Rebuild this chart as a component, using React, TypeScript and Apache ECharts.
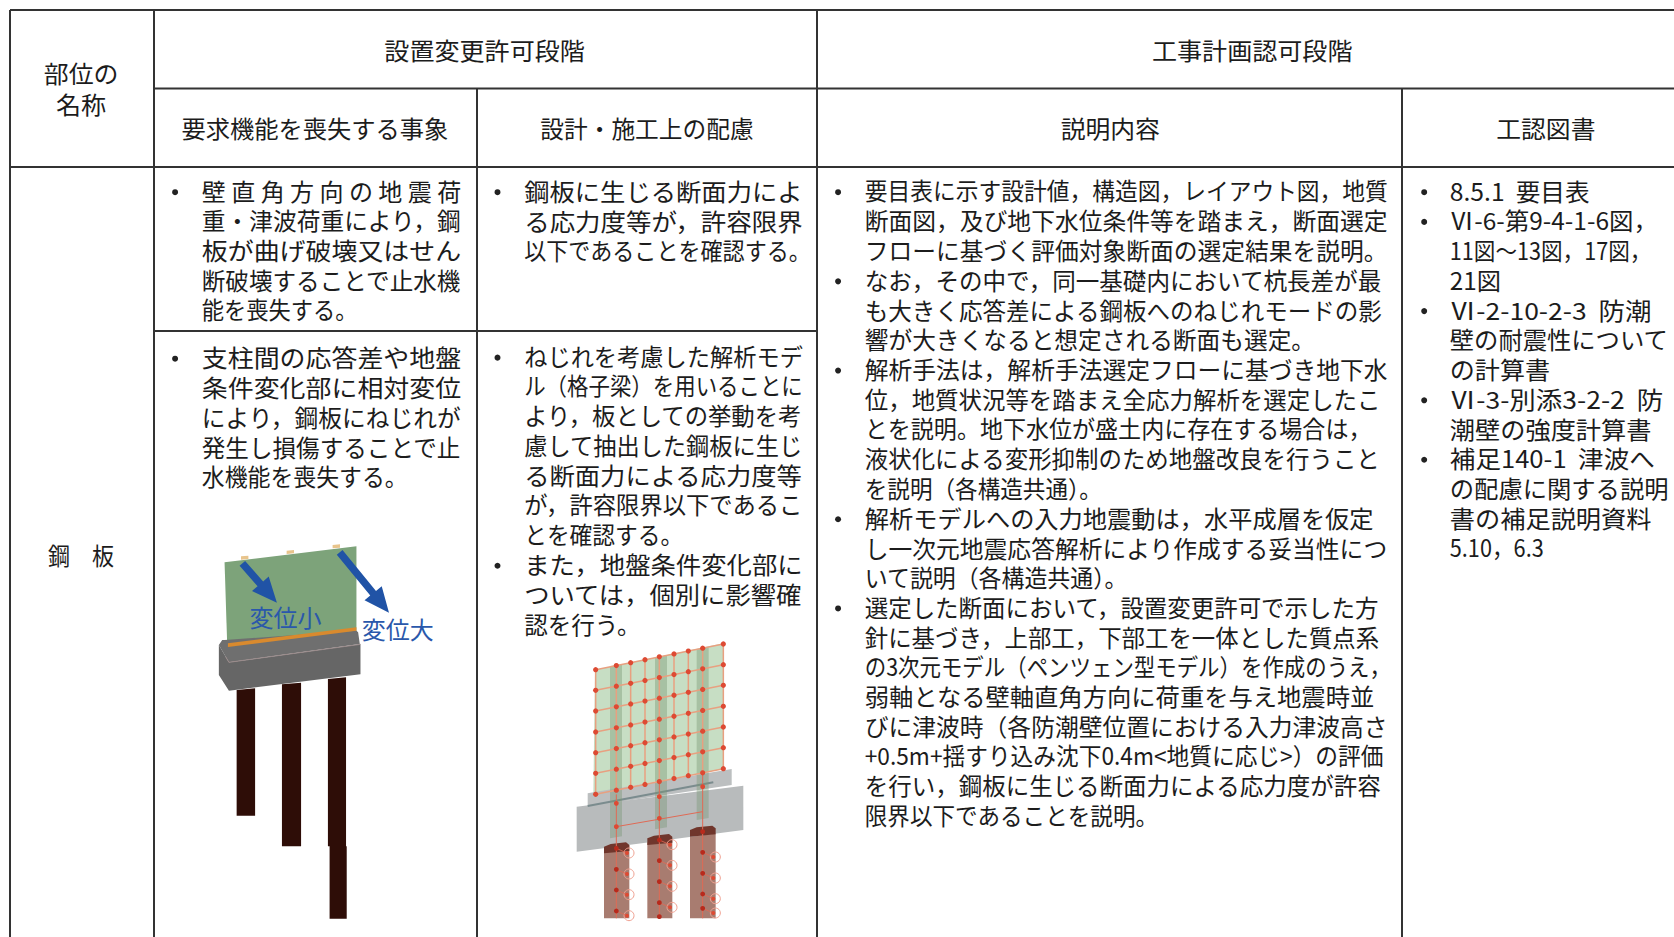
import React, { useEffect, useRef } from "react";
import * as echarts from "echarts";

const headerTop = ["設置変更許可段階", "工事計画認可段階"];
const headerSub = ["要求機能を喪失する事象", "設計・施工上の配慮", "説明内容", "工認図書"];
const rowLabel = ["部位の", "名称", "鋼　板"];

const col1a = ["壁 直 角 方 向 の 地 震 荷", "重・津波荷重により，鋼", "板が曲げ破壊又はせん", "断破壊することで止水機", "能を喪失する。"];
const col1aEnd = [432, 432, 432, 432, 335];
const col1b = ["支柱間の応答差や地盤", "条件変化部に相対変位", "により，鋼板にねじれが", "発生し損傷することで止", "水機能を喪失する。"];
const col1bEnd = [432, 432, 432, 432, 382];
const col2a = ["鋼板に生じる断面力によ", "る応力度等が，許容限界", "以下であることを確認する。"];
const col2aEnd = [752, 752, 760];
const col2b = ["ねじれを考慮した解析モデ", "ル（格子梁）を用いることに", "より，板としての挙動を考", "慮して抽出した鋼板に生じ", "る断面力による応力度等", "が，許容限界以下であるこ", "とを確認する。", "また，地盤条件変化部に", "ついては，個別に影響確", "認を行う。"];
const col2bEnd = [752, 752, 752, 752, 752, 752, 640, 752, 752, 600];
const col3 = [
  "要目表に示す設計値，構造図，レイアウト図，地質",
  "断面図，及び地下水位条件等を踏まえ，断面選定",
  "フローに基づく評価対象断面の選定結果を説明。",
  "なお，その中で，同一基礎内において杭長差が最",
  "も大きく応答差による鋼板へのねじれモードの影",
  "響が大きくなると想定される断面も選定。",
  "解析手法は，解析手法選定フローに基づき地下水",
  "位，地質状況等を踏まえ全応力解析を選定したこ",
  "とを説明。地下水位が盛土内に存在する場合は，",
  "液状化による変形抑制のため地盤改良を行うこと",
  "を説明（各構造共通）。",
  "解析モデルへの入力地震動は，水平成層を仮定",
  "し一次元地震応答解析により作成する妥当性につ",
  "いて説明（各構造共通）。",
  "選定した断面において，設置変更許可で示した方",
  "針に基づき，上部工，下部工を一体とした質点系",
  "の3次元モデル（ペンツェン型モデル）を作成のうえ，",
  "弱軸となる壁軸直角方向に荷重を与え地震時並",
  "びに津波時（各防潮壁位置における入力津波高さ",
  "+0.5m+揺すり込み沈下0.4m<地質に応じ>）の評価",
  "を行い，鋼板に生じる断面力による応力度が許容",
  "限界以下であることを説明。",
];
const col3End = [1300, 1300, 1300, 1295, 1295, 1232, 1300, 1293, 1285, 1293, 1032, 1287, 1300, 1057, 1292, 1292, 1303, 1288, 1300, 1296, 1294, 1085];
const col4 = [
  "8.5.1  要目表",
  "Ⅵ-6-第9-4-1-6図，",
  "11図～13図，17図，",
  "21図",
  "Ⅵ-2-10-2-3  防潮",
  "壁の耐震性について",
  "の計算書",
  "Ⅵ-3-別添3-2-2  防",
  "潮壁の強度計算書",
  "補足140-1  津波へ",
  "の配慮に関する説明",
  "書の補足説明資料",
  "5.10，6.3",
];
const col4End = [1489, 1553, 1547, 1406, 1547, 1563, 1452, 1558, 1547, 1550, 1563, 1547, 1446];
const bullets3 = [0, 3, 6, 11, 14];
const bullets4 = [0, 1, 4, 7, 9];
const bullets2b = [0, 7];
const diagramLabels = ["変位小", "変位大"];

const S = 1674 / 1568;
const FONT = '"Noto Sans CJK JP", "Noto Sans", sans-serif';
const INK = "#1c1c1c";
const TEXT_DY = -2;

const ctx = document.createElement("canvas").getContext("2d")!;

function fitText(text: string, x0: number, x1: number, y: number, size = 24, fill = INK): any {
  const font = `${size}px ${FONT}`;
  ctx.font = font;
  const w = ctx.measureText(text).width || 1;
  return {
    type: "text",
    x: x0 * S,
    y: y * S + TEXT_DY,
    scaleX: ((x1 - x0) * S) / w,
    z: 20,
    style: { text, font, fill, textAlign: "left", textVerticalAlign: "middle" },
  };
}

function centerText(text: string, cx: number, cy: number, width: number, size = 24): any {
  return fitText(text, cx - width / 2, cx + width / 2, cy, size);
}

function bullet(x: number, y: number): any {
  return { type: "circle", shape: { cx: x * S, cy: y * S, r: 3 }, z: 20, style: { fill: "#222" } };
}

function block(lines: string[], ends: number[], x0: number, y0: number, step: number): any[] {
  return lines.map((t, i) => fitText(t, x0, ends[i], y0 + i * step));
}

function rule(x1: number, y1: number, x2: number, y2: number): any {
  return { type: "line", z: 10, shape: { x1, y1, x2, y2 }, style: { stroke: "#333", lineWidth: 2 } };
}

function poly(ox: number, oy: number, kx: number, pts: number[][], fill: string, z = 5, extra: any = {}): any {
  return {
    type: "polygon",
    z,
    shape: { points: pts.map(([a, b]) => [ox + a / kx, oy + b / 3]) },
    style: { fill, ...extra },
  };
}

function diagramOne(): any[] {
  const ox = 140, oy = 500, k = 2.98;
  const out: any[] = [];
  const pile = "#2e0d07";
  out.push(poly(ox, oy, k, [[288, 570], [343, 565], [343, 947], [288, 947]], pile));
  out.push(poly(ox, oy, k, [[423, 553], [480, 548], [480, 1039], [423, 1039]], pile));
  out.push(poly(ox, oy, k, [[560, 537], [614, 532], [614, 1039], [616, 1039], [616, 1256], [565, 1256], [565, 1039], [560, 1039]], pile));
  out.push(poly(ox, oy, k, [[252, 187], [645, 139], [645, 400], [260, 438]], "#7da37a", 6));
  for (const [a, b] of [[312, 174], [448, 157], [585, 140]]) {
    out.push(poly(ox, oy, k, [[a - 11, b - 5], [a + 11, b - 7], [a + 11, b + 3], [a - 11, b + 5]], "#e8c48c", 6));
  }
  out.push(poly(ox, oy, k, [[252, 420], [645, 392], [650, 397], [655, 432], [265, 487], [235, 435], [245, 420]], "#6f6f6f", 7));
  out.push(poly(ox, oy, k, [[262, 430], [645, 382], [645, 392], [262, 441]], "#d98a2e", 8));
  out.push(poly(ox, oy, k, [[235, 435], [265, 487], [657, 433], [657, 523], [265, 572], [235, 525]], "#666666", 7));
  out.push({
    type: "polyline", z: 8,
    shape: { points: [[ox + 255 / k, oy + 470 / 3], [ox + 265 / k, oy + 487 / 3], [ox + 657 / k, oy + 433 / 3]] },
    style: { stroke: "#9a8a8a", lineWidth: 1, fill: "none" },
  });
  const blue = "#2053a6";
  const arrow = (x1: number, y1: number, x2: number, y2: number) => {
    const dx = x2 - x1, dy = y2 - y1, L = Math.hypot(dx, dy), ux = dx / L, uy = dy / L;
    const nx = -uy, ny = ux, hl = 75, hw = 33, sw = 11;
    const bx = x2 - ux * hl, by = y2 - uy * hl;
    return poly(ox, oy, k, [
      [x1 + nx * sw, y1 + ny * sw], [bx + nx * sw, by + ny * sw], [bx + nx * hw, by + ny * hw], [x2, y2],
      [bx - nx * hw, by - ny * hw], [bx - nx * sw, by - ny * sw], [x1 - nx * sw, y1 - ny * sw],
    ], blue, 9);
  };
  out.push(arrow(305, 190, 408, 308));
  out.push(arrow(595, 157, 742, 338));
  out.push({ type: "text", z: 21, x: ox + 326 / k, y: oy + 354 / 3 + TEXT_DY, style: { text: diagramLabels[0], font: `24px ${FONT}`, fill: "#2a58ab", textVerticalAlign: "middle" } });
  out.push({ type: "text", z: 21, x: ox + 661 / k, y: oy + 390 / 3 + TEXT_DY, style: { text: diagramLabels[1], font: `24px ${FONT}`, fill: "#2a58ab", textVerticalAlign: "middle" } });
  return out;
}

function diagramTwo(): any[] {
  const ox = 540, oy = 620, k = 3;
  const out: any[] = [];
  const P = (a: number, b: number) => [ox + a / k, oy + b / 3];
  const red = "#dd4a33";
  const pilesAt = [[192, 680, 268, 675], [322, 655, 397, 650], [450, 630, 527, 625]];
  for (const [a, b, c, d] of pilesAt) {
    out.push(poly(ox, oy, k, [[a, b], [c, d], [c, 895], [a, 895]], "#a87c70", 5));
    out.push(poly(ox, oy, k, [[a, b], [a + 20, b - 8], [c - 10, d - 8], [c, d], [c, d + 18], [a, b + 20]], "#70362c", 8));
  }
  out.push(poly(ox, oy, k, [[165, 150], [550, 70], [550, 447], [160, 520]], "#c7dec4", 6));
  for (const [a, w, top, bot] of [[210, 36, 138, 655], [345, 36, 112, 628], [470, 36, 88, 600]]) {
    out.push(poly(ox, oy, k, [[a, top], [a + w, top - 6], [a + w, bot - 6], [a, bot]], "rgba(120,150,115,0.4)", 9));
  }
  out.push(poly(ox, oy, k, [[143, 520], [575, 447], [575, 495], [143, 560]], "#bcbfc0", 7));
  out.push(poly(ox, oy, k, [[110, 560], [610, 497], [610, 630], [110, 695]], "#b8bbbc", 7));
  out.push({ type: "line", z: 8, shape: { x1: P(143, 0)[0], y1: P(0, 558)[1], x2: P(520, 0)[0], y2: P(0, 487)[1] }, style: { stroke: "#7b8c8e", lineWidth: 2 } });
  const cols = [167, 229, 272, 315, 358, 402, 445, 488, 550];
  const rowsLeft = [149, 211, 273, 336, 398, 460, 523];
  const slope = (72 - 149) / (550 - 167);
  cols.forEach((cx) => {
    const d = slope * (cx - 167);
    out.push({ type: "line", z: 10, shape: { x1: P(cx, 0)[0], y1: P(0, 149 + d)[1], x2: P(cx, 0)[0], y2: P(0, 523 + d)[1] }, style: { stroke: "#e8a080", lineWidth: 1.5 } });
  });
  rowsLeft.forEach((ry) => {
    out.push({ type: "line", z: 10, shape: { x1: P(167, 0)[0], y1: P(0, ry)[1], x2: P(550, 0)[0], y2: P(0, ry + slope * 383)[1] }, style: { stroke: "#e8a080", lineWidth: 1.5 } });
    cols.forEach((cx) => {
      const [px, py] = P(cx, ry + slope * (cx - 167));
      out.push({ type: "circle", z: 12, shape: { cx: px, cy: py, r: 2.6 }, style: { fill: red } });
    });
  });
  const redLines = [[229, 523, 229, 895], [358, 485, 358, 895], [488, 460, 488, 895], [229, 620, 488, 575]];
  redLines.forEach(([a, b, c, d]) => {
    out.push({ type: "line", z: 11, shape: { x1: P(a, 0)[0], y1: P(0, b)[1], x2: P(c, 0)[0], y2: P(0, d)[1] }, style: { stroke: "#e06a55", lineWidth: 1 } });
  });
  const nodes = [[229, 550], [229, 620], [358, 530], [358, 595], [488, 500], [229, 685], [229, 748], [229, 810], [229, 873], [358, 660], [358, 722], [358, 785], [358, 848], [358, 890], [488, 635], [488, 697], [488, 760], [488, 822], [488, 865]];
  nodes.forEach(([a, b]) => {
    const [px, py] = P(a, b);
    out.push({ type: "circle", z: 12, shape: { cx: px, cy: py, r: 2.4 }, style: { fill: b > 620 ? "#b82a1c" : red } });
    if (b > 640 && b + 14 < 890) {
      const [qx, qy] = P(a + 32, b + 14);
      out.push({ type: "circle", z: 12, shape: { cx: qx, cy: qy, r: 2 }, style: { fill: red } });
      out.push({ type: "circle", z: 11, shape: { cx: qx + 2, cy: qy, r: 5 }, style: { fill: "none", stroke: "#f0a090", lineWidth: 1 } });
      out.push({ type: "line", z: 11, shape: { x1: px, y1: py, x2: qx, y2: qy }, style: { stroke: "#e06a55", lineWidth: 0.8 } });
    }
  });
  return out;
}

function buildGraphics(): any[] {
  const g: any[] = [];
  const xs = [10, 154, 477, 817, 1402];
  const ysTop = 10, y1 = 88.5, y2 = 167, y3 = 331, W = 1674, H = 937;
  g.push(rule(xs[0], ysTop, W, ysTop));
  g.push(rule(xs[1], y1, W, y1));
  g.push(rule(xs[0], y2, W, y2));
  g.push(rule(xs[0], ysTop, xs[0], H));
  g.push(rule(xs[1], ysTop, xs[1], H));
  g.push(rule(xs[2], y1, xs[2], H));
  g.push(rule(xs[3], ysTop, xs[3], H));
  g.push(rule(xs[4], y1, xs[4], H));
  g.push(rule(xs[1], y3, xs[3], y3));

  g.push(centerText(headerTop[0], 454, 48, 188));
  g.push(centerText(headerTop[1], 1173, 48, 188));
  g.push(centerText(headerSub[0], 295, 121, 250));
  g.push(centerText(headerSub[1], 606, 121, 200));
  g.push(centerText(headerSub[2], 1040, 121, 93));
  g.push(centerText(headerSub[3], 1448, 121, 93));
  g.push(centerText(rowLabel[0], 76, 70, 70));
  g.push(centerText(rowLabel[1], 76, 99, 47));
  g.push(centerText(rowLabel[2], 76, 521, 62));

  const step = 27.85;
  g.push(...block(col1a, col1aEnd, 189, 180, step));
  g.push(...block(col1b, col1bEnd, 189, 336, step));
  g.push(...block(col2a, col2aEnd, 491, 180, step));
  g.push(...block(col2b, col2bEnd, 491, 335, step));
  g.push(...block(col3, col3End, 810, 180, step));
  g.push(...block(col4, col4End, 1358, 180, step));

  g.push(bullet(164, 180), bullet(164, 336), bullet(466, 180));
  bullets2b.forEach((i) => g.push(bullet(466, 335 + i * step)));
  bullets3.forEach((i) => g.push(bullet(785, 180 + i * step)));
  bullets4.forEach((i) => g.push(bullet(1334, 180 + i * step)));

  g.push(...diagramOne(), ...diagramTwo());
  return g;
}

export default function App() {
  const ref = useRef<HTMLDivElement>(null);
  useEffect(() => {
    document.body.style.margin = "0";
    const chart = echarts.init(ref.current!, undefined, { renderer: "svg" });
    chart.setOption({ animation: false, backgroundColor: "#ffffff", graphic: { elements: buildGraphics() } });
    return () => chart.dispose();
  }, []);
  return <div ref={ref} style={{ width: 1674, height: 937 }} />;
}
